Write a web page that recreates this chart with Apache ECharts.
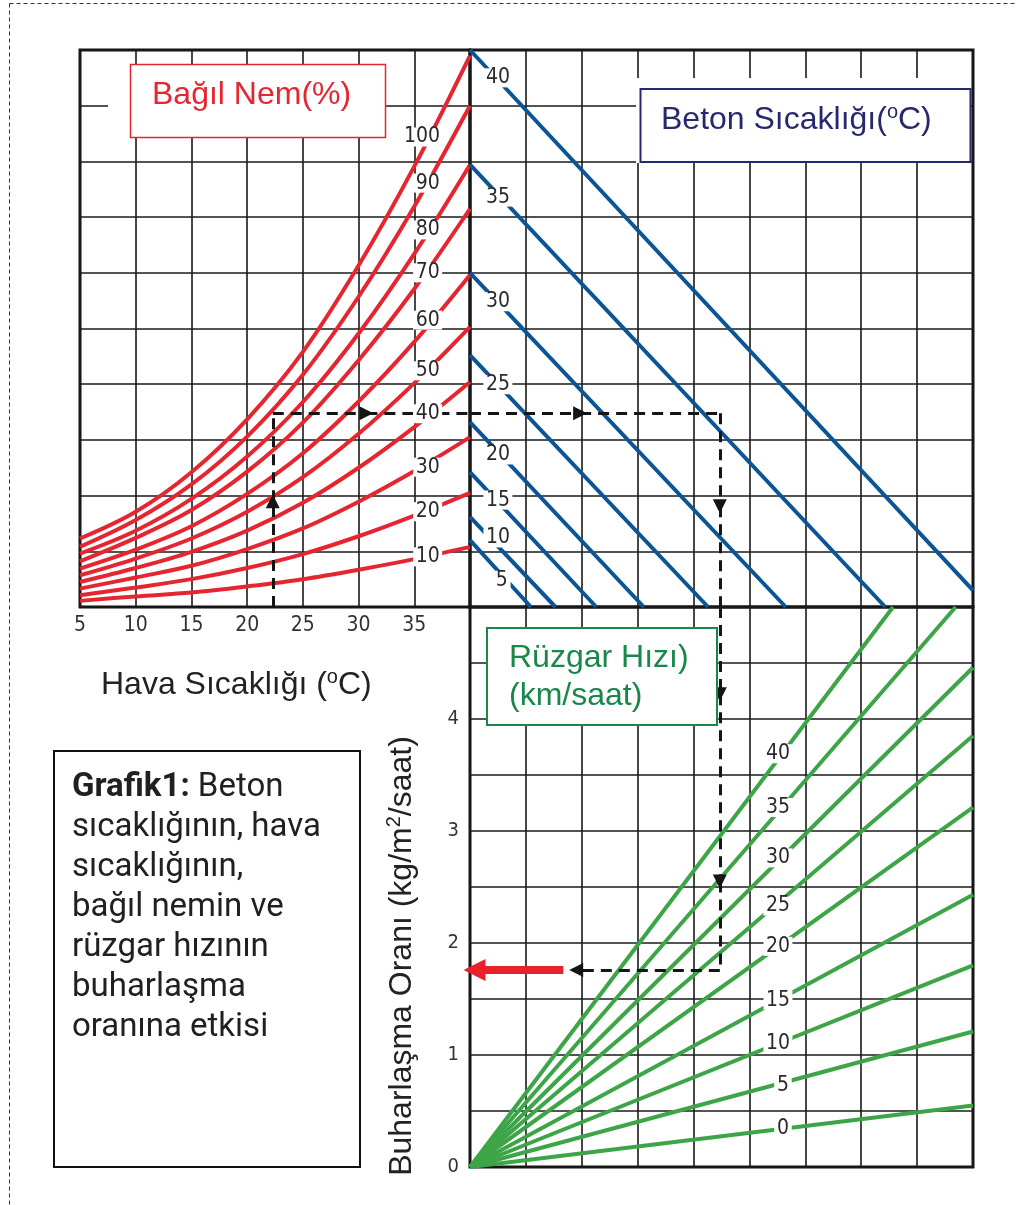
<!DOCTYPE html>
<html><head><meta charset="utf-8">
<script src="https://cdn.jsdelivr.net/npm/echarts@6/dist/echarts.min.js"></script>
<style>html,body{margin:0;padding:0;background:#fff}#c{width:1016px;height:1205px}</style>
</head><body><div id="c"></div>
<script>
// ---- data ----
const airTemps = [5, 10, 15, 20, 25, 30, 35, 40];
const airTempTicks = [5, 10, 15, 20, 25, 30, 35];
const rhLevels = [10, 20, 30, 40, 50, 60, 70, 80, 90, 100];
const rh10  = [0.11, 0.19, 0.26, 0.37, 0.50, 0.67, 0.86, 1.08];
const rh20  = [0.21, 0.35, 0.50, 0.70, 0.95, 1.27, 1.64, 2.05];
const rh30  = [0.33, 0.53, 0.74, 1.04, 1.41, 1.89, 2.44, 3.05];
const rh40  = [0.45, 0.70, 0.99, 1.37, 1.87, 2.50, 3.23, 4.04];
const rh50  = [0.57, 0.87, 1.23, 1.71, 2.33, 3.11, 4.02, 5.03];
const rh60  = [0.69, 1.03, 1.45, 2.03, 2.76, 3.69, 4.76, 5.96];
const rh70  = [0.82, 1.24, 1.74, 2.43, 3.31, 4.43, 5.71, 7.15];
const rh80  = [0.96, 1.37, 1.94, 2.70, 3.68, 4.91, 6.34, 7.94];
const rh90  = [1.08, 1.56, 2.20, 3.06, 4.17, 5.57, 7.19, 9.00];
const rh100 = [1.23, 1.71, 2.42, 3.37, 4.58, 6.13, 7.91, 9.90];
const rhLabelT = [36.2, 36.2, 36.2, 36.2, 36.2, 36.2, 36.2, 36.2, 36.2, 35.7];
const rhLabelY = [0.90, 1.71, 2.51, 3.47, 4.24, 5.15, 6.00, 6.77, 7.61, 8.44];

const concreteTemps = [5, 10, 15, 20, 25, 30, 35, 40];
const concreteStartY = [1.20, 1.62, 2.42, 3.32, 4.52, 6.00, 7.94, 10.0];
const concreteEndX   = [1.09, 1.53, 2.26, 3.11, 4.26, 5.65, 7.43, 9.0];
const concreteEndY   = [0, 0, 0, 0, 0, 0, 0, 0.3];
const concreteLabelX = [0.57, 0.5, 0.5, 0.5, 0.5, 0.5, 0.5, 0.5];
const concreteLabelY = [0.48, 1.24, 1.92, 2.73, 3.99, 5.48, 7.36, 9.50];

const windSpeeds = [0, 5, 10, 15, 20, 25, 30, 35, 40];
const windEndX = [9, 9, 9, 9, 9, 9, 9, 8.69, 7.57];
const windEndY = [0.55, 1.21, 1.80, 2.43, 3.21, 3.85, 4.46, 5, 5];
const windLabelX = [5.6, 5.6, 5.51, 5.51, 5.51, 5.51, 5.51, 5.51, 5.51];
const windLabelY = [0.34, 0.73, 1.10, 1.49, 1.97, 2.33, 2.76, 3.21, 3.69];

const evapTicks = [0, 1, 2, 3, 4];
// worked example path
const exAirTemp = 22.3, exLevel = 3.48, exX = 4.47, exEvap = 1.76;

// ---- build ----
const RED = '#e52630', BLUE = '#0b5597', GREEN = '#3da548';
const NUM_FONT = "'Liberation Sans Narrow','DejaVu Sans Condensed','Liberation Sans',Arial,sans-serif";
const SANS = "'Liberation Sans',Arial,sans-serif";
const rhSeries = [rh10, rh20, rh30, rh40, rh50, rh60, rh70, rh80, rh90, rh100];

const series = [];
rhSeries.forEach(arr => series.push({
  type: 'line', xAxisIndex: 0, yAxisIndex: 0, smooth: 0.35, symbol: 'none',
  data: airTemps.map((t, i) => [t, arr[i]]),
  lineStyle: { color: RED, width: 4 }, z: 3, silent: true
}));
concreteTemps.forEach((c, i) => series.push({
  type: 'line', xAxisIndex: 1, yAxisIndex: 1, symbol: 'none',
  data: [[0, concreteStartY[i]], [concreteEndX[i], concreteEndY[i]]],
  lineStyle: { color: BLUE, width: 4 }, z: 3, silent: true
}));
windSpeeds.forEach((w, i) => series.push({
  type: 'line', xAxisIndex: 2, yAxisIndex: 2, symbol: 'none',
  data: [[0, 0], [windEndX[i], windEndY[i]]],
  lineStyle: { color: GREEN, width: 4 }, z: 3, silent: true
}));

function labelSeries(idx, xs, ys, names) {
  return { type: 'scatter', xAxisIndex: idx, yAxisIndex: idx, z: 20, silent: true,
    symbol: 'rect', itemStyle: { color: '#fff', opacity: 1 },
    data: names.map((n, i) => ({ value: [xs[i], ys[i]],
      symbolSize: [String(n).length * 11.5 + 6, 19],
      label: { formatter: String(n) } })),
    label: { show: true, position: 'inside', color: '#2a2a2a', fontSize: 21, fontFamily: NUM_FONT } };
}
series.push(labelSeries(0, rhLabelT, rhLabelY, rhLevels));
series.push(labelSeries(1, concreteLabelX, concreteLabelY, concreteTemps));
series.push(labelSeries(2, windLabelX, windLabelY, windSpeeds));

const dashStyle = { color: '#151515', width: 3, type: [11, 7], opacity: 1 };
function dashed(idx, segs, arrow) {
  return { type: 'lines', coordinateSystem: 'cartesian2d', xAxisIndex: idx, yAxisIndex: idx,
    clip: false, z: 10, silent: true,
    symbol: arrow ? ['none', 'triangle'] : ['none', 'none'], symbolSize: [11, 14],
    lineStyle: dashStyle, data: segs.map(s => ({ coords: s })) };
}
// grid A
series.push(dashed(0, [[[exAirTemp, 0], [exAirTemp, 1.9]], [[exAirTemp, exLevel], [30.7, exLevel]]], true));
series.push(dashed(0, [[[exAirTemp, 1.9], [exAirTemp, exLevel]], [[30.7, exLevel], [40, exLevel]]], false));
// grid B
series.push(dashed(1, [[[0, exLevel], [1.97, exLevel]], [[exX, exLevel], [exX, 1.81]]], true));
series.push(dashed(1, [[[1.97, exLevel], [exX, exLevel]], [[exX, 1.81], [exX, 0]]], false));
// grid C
series.push(dashed(2, [[[exX, 5], [exX, 4.22]], [[exX, 4.22], [exX, 2.55]], [[exX, exEvap], [1.9, exEvap]]], true));
series.push(dashed(2, [[[exX, 2.55], [exX, exEvap]]], false));
// red result arrow
series.push({ type: 'lines', coordinateSystem: 'cartesian2d', xAxisIndex: 2, yAxisIndex: 2,
  clip: false, z: 12, silent: true, symbol: ['none', 'triangle'], symbolSize: [24, 22],
  lineStyle: { color: '#e8222a', width: 8, type: 'solid', opacity: 1 },
  data: [{ coords: [[1.67, exEvap], [0.08, exEvap]] }] });

const splitLine = { show: true, lineStyle: { color: '#1a1a1a', width: 1.6 } };
const gridBase = { show: true, borderColor: '#111', borderWidth: 3, containLabel: false };
const hiddenAxis = { axisLine: { show: false }, axisTick: { show: false }, splitLine };

const option = {
  animation: false,
  backgroundColor: '#fff',
  grid: [
    Object.assign({ left: 80, top: 50, width: 390, height: 557 }, gridBase),
    Object.assign({ left: 470, top: 50, width: 503, height: 557 }, gridBase),
    Object.assign({ left: 470, top: 607, width: 503, height: 560 }, gridBase)
  ],
  xAxis: [
    Object.assign({ gridIndex: 0, type: 'value', min: 5, max: 40, interval: 5,
      axisLabel: { formatter: v => airTempTicks.indexOf(v) >= 0 ? String(v) : '', margin: 8,
        color: '#333', fontSize: 21, fontFamily: NUM_FONT } }, hiddenAxis),
    Object.assign({ gridIndex: 1, type: 'value', min: 0, max: 9, interval: 1, axisLabel: { show: false } }, hiddenAxis),
    Object.assign({ gridIndex: 2, type: 'value', min: 0, max: 9, interval: 1, axisLabel: { show: false } }, hiddenAxis)
  ],
  yAxis: [
    Object.assign({ gridIndex: 0, type: 'value', min: 0, max: 10, interval: 1, axisLabel: { show: false } }, hiddenAxis),
    Object.assign({ gridIndex: 1, type: 'value', min: 0, max: 10, interval: 1, axisLabel: { show: false } }, hiddenAxis),
    Object.assign({ gridIndex: 2, type: 'value', min: 0, max: 5, interval: 0.5,
      axisLabel: { formatter: v => evapTicks.indexOf(v) >= 0 ? String(v) : '', margin: 11,
        color: '#333', fontSize: 20, fontFamily: NUM_FONT } }, hiddenAxis)
  ],
  series,
  graphic: [
    // outer dashed frame
    { type: 'line', shape: { x1: 9.5, y1: 3.5, x2: 1016, y2: 3.5 }, style: { stroke: '#333', lineWidth: 1, lineDash: [4, 3] } },
    { type: 'line', shape: { x1: 9.5, y1: 3.5, x2: 9.5, y2: 1205 }, style: { stroke: '#333', lineWidth: 1, lineDash: [4, 3] } },
    // Bağıl Nem box
    { type: 'rect', shape: { x: 108, y: 100, width: 24, height: 14 }, style: { fill: '#fff' }, z: 100 },
    { type: 'rect', shape: { x: 130.5, y: 64.5, width: 255, height: 73 }, style: { fill: '#fff', stroke: RED, lineWidth: 1.5 }, z: 100 },
    { type: 'text', x: 152, y: 95, z: 101, style: { text: 'Bağıl Nem(%)', fill: RED, fontSize: 32, fontFamily: SANS, verticalAlign: 'middle' } },
    // Beton box
    { type: 'rect', shape: { x: 636, y: 78, width: 334, height: 85 }, style: { fill: '#fff' }, z: 100 },
    { type: 'rect', shape: { x: 640.5, y: 89, width: 330, height: 73 }, style: { fill: '#fff', stroke: '#262a6c', lineWidth: 2 }, z: 100 },
    { type: 'text', x: 661, y: 120, z: 101, style: { text: 'Beton Sıcaklığı({s|o}C)', fill: '#262a6c', fontSize: 32, fontFamily: SANS,
      verticalAlign: 'middle', rich: { s: { fontSize: 20, fontFamily: SANS, fill: '#262a6c', verticalAlign: 'top', padding: [0, 0, 16, 0] } } } },
    // Rüzgar box
    { type: 'rect', shape: { x: 487, y: 628, width: 230, height: 97 }, style: { fill: '#fff', stroke: '#17874a', lineWidth: 2 }, z: 100 },
    { type: 'text', x: 509, y: 658, z: 101, style: { text: 'Rüzgar Hızı)', fill: '#17874a', fontSize: 32, fontFamily: SANS, verticalAlign: 'middle' } },
    { type: 'text', x: 509, y: 696, z: 101, style: { text: '(km/saat)', fill: '#17874a', fontSize: 32, fontFamily: SANS, verticalAlign: 'middle' } },
    // axis titles
    { type: 'text', x: 101, y: 685, z: 101, style: { text: 'Hava Sıcaklığı ({s|o}C)', fill: '#222', fontSize: 32, fontFamily: SANS,
      verticalAlign: 'middle', rich: { s: { fontSize: 20, fontFamily: SANS, fill: '#222', verticalAlign: 'top', padding: [0, 0, 16, 0] } } } },
    { type: 'text', x: 402, y: 956, rotation: Math.PI / 2, z: 101, style: { text: 'Buharlaşma Oranı (kg/m{s|2}/saat)', fill: '#222',
      fontSize: 32, fontFamily: SANS, align: 'center', verticalAlign: 'middle',
      rich: { s: { fontSize: 20, fontFamily: SANS, fill: '#222', verticalAlign: 'top', padding: [0, 0, 16, 0] } } } },
    // caption box
    { type: 'rect', shape: { x: 54, y: 751, width: 306, height: 416 }, style: { fill: '#fff', stroke: '#111', lineWidth: 2 }, z: 100 },
    { type: 'text', x: 72, y: 768, z: 101, style: {
      text: '{b|Grafik1:} Beton\nsıcaklığının, hava\nsıcaklığının,\nbağıl nemin ve\nrüzgar hızının\nbuharlaşma\noranına etkisi',
      fill: '#231f20', fontSize: 33, fontFamily: 'Roboto', lineHeight: 40, verticalAlign: 'top',
      rich: { b: { fontSize: 33, fontFamily: 'Roboto', fontWeight: 'bold', fill: '#231f20', lineHeight: 40 } } } }
  ]
};
const chart = echarts.init(document.getElementById('c'), null, { width: 1016, height: 1205 });
chart.setOption(option);
</script></body></html>
